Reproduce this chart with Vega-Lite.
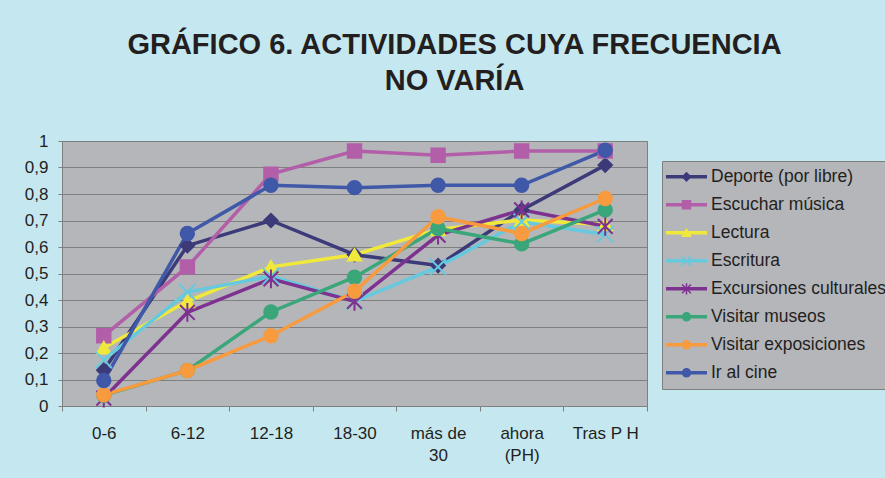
{
  "$schema": "https://vega.github.io/schema/vega-lite/v6.json",
  "width": 585,
  "height": 265,
  "autosize": {"type": "none"},
  "padding": {"left": 62, "top": 141, "right": 238, "bottom": 72},
  "background": "#c5e8f0",
  "title": {
    "text": ["GRÁFICO 6. ACTIVIDADES CUYA FRECUENCIA", "NO VARÍA"],
    "font": "Liberation Sans",
    "fontSize": 29,
    "fontWeight": "bold",
    "color": "#231f20",
    "anchor": "middle",
    "frame": "group",
    "dx": 100,
    "lineHeight": 36,
    "offset": 36
  },
  "config": {
    "view": {"fill": "#b5b6ba", "stroke": "#7f7f7f", "strokeWidth": 1},
    "axis": {"labelFont": "Liberation Sans", "labelFontSize": 17, "labelColor": "#231f20", "domainColor": "#7f7f7f", "tickColor": "#7f7f7f", "title": null}
  },
  "data": {
    "values": [
      {"serie": "Deporte (por libre)", "edad": "0-6", "valor": 0.135},
      {"serie": "Deporte (por libre)", "edad": "6-12", "valor": 0.605},
      {"serie": "Deporte (por libre)", "edad": "12-18", "valor": 0.70},
      {"serie": "Deporte (por libre)", "edad": "18-30", "valor": 0.571},
      {"serie": "Deporte (por libre)", "edad": "más de 30", "valor": 0.53},
      {"serie": "Deporte (por libre)", "edad": "ahora (PH)", "valor": 0.74},
      {"serie": "Deporte (por libre)", "edad": "Tras P H", "valor": 0.909},
      {"serie": "Escuchar música", "edad": "0-6", "valor": 0.265},
      {"serie": "Escuchar música", "edad": "6-12", "valor": 0.525},
      {"serie": "Escuchar música", "edad": "12-18", "valor": 0.875},
      {"serie": "Escuchar música", "edad": "18-30", "valor": 0.962},
      {"serie": "Escuchar música", "edad": "más de 30", "valor": 0.946},
      {"serie": "Escuchar música", "edad": "ahora (PH)", "valor": 0.962},
      {"serie": "Escuchar música", "edad": "Tras P H", "valor": 0.962},
      {"serie": "Lectura", "edad": "0-6", "valor": 0.22},
      {"serie": "Lectura", "edad": "6-12", "valor": 0.395},
      {"serie": "Lectura", "edad": "12-18", "valor": 0.525},
      {"serie": "Lectura", "edad": "18-30", "valor": 0.571},
      {"serie": "Lectura", "edad": "más de 30", "valor": 0.666},
      {"serie": "Lectura", "edad": "ahora (PH)", "valor": 0.702},
      {"serie": "Lectura", "edad": "Tras P H", "valor": 0.685},
      {"serie": "Escritura", "edad": "0-6", "valor": 0.174},
      {"serie": "Escritura", "edad": "6-12", "valor": 0.43},
      {"serie": "Escritura", "edad": "12-18", "valor": 0.49},
      {"serie": "Escritura", "edad": "18-30", "valor": 0.395},
      {"serie": "Escritura", "edad": "más de 30", "valor": 0.525},
      {"serie": "Escritura", "edad": "ahora (PH)", "valor": 0.695},
      {"serie": "Escritura", "edad": "Tras P H", "valor": 0.647},
      {"serie": "Excursiones culturales", "edad": "0-6", "valor": 0.03},
      {"serie": "Excursiones culturales", "edad": "6-12", "valor": 0.353},
      {"serie": "Excursiones culturales", "edad": "12-18", "valor": 0.48},
      {"serie": "Excursiones culturales", "edad": "18-30", "valor": 0.395},
      {"serie": "Excursiones culturales", "edad": "más de 30", "valor": 0.645},
      {"serie": "Excursiones culturales", "edad": "ahora (PH)", "valor": 0.74},
      {"serie": "Excursiones culturales", "edad": "Tras P H", "valor": 0.678},
      {"serie": "Visitar museos", "edad": "0-6", "valor": 0.04},
      {"serie": "Visitar museos", "edad": "6-12", "valor": 0.134},
      {"serie": "Visitar museos", "edad": "12-18", "valor": 0.355},
      {"serie": "Visitar museos", "edad": "18-30", "valor": 0.486},
      {"serie": "Visitar museos", "edad": "más de 30", "valor": 0.67},
      {"serie": "Visitar museos", "edad": "ahora (PH)", "valor": 0.612},
      {"serie": "Visitar museos", "edad": "Tras P H", "valor": 0.74},
      {"serie": "Visitar exposiciones", "edad": "0-6", "valor": 0.042},
      {"serie": "Visitar exposiciones", "edad": "6-12", "valor": 0.134},
      {"serie": "Visitar exposiciones", "edad": "12-18", "valor": 0.265},
      {"serie": "Visitar exposiciones", "edad": "18-30", "valor": 0.433},
      {"serie": "Visitar exposiciones", "edad": "más de 30", "valor": 0.714},
      {"serie": "Visitar exposiciones", "edad": "ahora (PH)", "valor": 0.651},
      {"serie": "Visitar exposiciones", "edad": "Tras P H", "valor": 0.783},
      {"serie": "Ir al cine", "edad": "0-6", "valor": 0.096},
      {"serie": "Ir al cine", "edad": "6-12", "valor": 0.651},
      {"serie": "Ir al cine", "edad": "12-18", "valor": 0.833},
      {"serie": "Ir al cine", "edad": "18-30", "valor": 0.824},
      {"serie": "Ir al cine", "edad": "más de 30", "valor": 0.833},
      {"serie": "Ir al cine", "edad": "ahora (PH)", "valor": 0.833},
      {"serie": "Ir al cine", "edad": "Tras P H", "valor": 0.965}
    ]
  },
  "encoding": {
    "x": {
      "field": "edad",
      "type": "nominal",
      "sort": ["0-6", "6-12", "12-18", "18-30", "más de 30", "ahora (PH)", "Tras P H"],
      "scale": {"type": "band", "paddingInner": 0, "paddingOuter": 0},
      "axis": {
        "labelAngle": 0,
        "tickBand": "extent",
        "tickSize": 5,
        "labelPadding": 14,
        "labelBaseline": "top",
        "labelLineHeight": 22,
        "labelExpr": "datum.value == 'más de 30' ? ['más de', '30'] : datum.value == 'ahora (PH)' ? ['ahora', '(PH)'] : datum.value",
        "grid": false
      }
    },
    "y": {
      "field": "valor",
      "type": "quantitative",
      "scale": {"domain": [0, 1], "nice": false, "zero": true},
      "axis": {
        "values": [0, 0.1, 0.2, 0.3, 0.4, 0.5, 0.6, 0.7, 0.8, 0.9, 1],
        "labelExpr": "datum.value == 0 ? '0' : datum.value == 1 ? '1' : replace(format(datum.value, '.1f'), '.', ',')",
        "tickSize": 4,
        "labelPadding": 10,
        "grid": true,
        "gridColor": "#7f7f7f",
        "gridWidth": 1
      }
    }
  },
  "layer": [
    {
      "mark": {"type": "line", "strokeWidth": 3.5},
      "encoding": {
        "color": {
          "field": "serie",
          "type": "nominal",
          "sort": ["Deporte (por libre)", "Escuchar música", "Lectura", "Escritura", "Excursiones culturales", "Visitar museos", "Visitar exposiciones", "Ir al cine"],
          "scale": {"range": ["#3c3a78", "#b35ea8", "#f0e93c", "#66c9dd", "#7d3290", "#3aa67a", "#f89a3e", "#3f58a8"]},
          "legend": {
            "orient": "none",
            "legendX": 600,
            "legendY": 20,
            "title": null,
            "symbolType": "stroke",
            "symbolSize": 1681,
            "symbolStrokeWidth": 3.5,
            "fillColor": "#b5b6ba",
            "strokeColor": "#7f7f7f",
            "padding": 2,
            "labelFont": "Liberation Sans",
            "labelFontSize": 17.5,
            "labelColor": "#231f20",
            "labelOffset": 2,
            "labelLimit": 0,
            "clipHeight": 27.7,
            "rowPadding": 0,
            "zindex": 1
          }
        }
      }
    },
    {
      "mark": {"type": "point", "filled": true, "size": 180, "strokeWidth": 2, "opacity": 1},
      "encoding": {
        "fill": {
          "field": "serie",
          "type": "nominal",
          "scale": {"domain": ["Deporte (por libre)", "Escuchar música", "Lectura", "Escritura", "Excursiones culturales", "Visitar museos", "Visitar exposiciones", "Ir al cine"], "range": ["#3c3a78", "#b35ea8", "#f0e93c", "#66c9dd", "#7d3290", "#3aa67a", "#f89a3e", "#3f58a8"]},
          "legend": {
            "orient": "none", "legendX": 600, "legendY": 20, "title": null,
            "symbolSize": 64, "symbolStrokeWidth": 1.5, "padding": 2,
            "labelFont": "Liberation Sans", "labelFontSize": 16.5, "labelExpr": "''", "labelLimit": 0,
            "clipHeight": 27.7, "rowPadding": 0, "symbolOffset": 14.25, "zindex": 2
          }
        },
        "stroke": {
          "field": "serie",
          "type": "nominal",
          "scale": {"domain": ["Deporte (por libre)", "Escuchar música", "Lectura", "Escritura", "Excursiones culturales", "Visitar museos", "Visitar exposiciones", "Ir al cine"], "range": ["#3c3a78", "#b35ea8", "#f0e93c", "#66c9dd", "#7d3290", "#3aa67a", "#f89a3e", "#3f58a8"]},
          "legend": {
            "orient": "none", "legendX": 600, "legendY": 20, "title": null,
            "symbolSize": 64, "symbolStrokeWidth": 1.5, "padding": 2,
            "labelFont": "Liberation Sans", "labelFontSize": 16.5, "labelExpr": "''", "labelLimit": 0,
            "clipHeight": 27.7, "rowPadding": 0, "symbolOffset": 14.25, "zindex": 2
          }
        },
        "shape": {
          "field": "serie",
          "type": "nominal",
          "scale": {"domain": ["Deporte (por libre)", "Escuchar música", "Lectura", "Escritura", "Excursiones culturales", "Visitar museos", "Visitar exposiciones", "Ir al cine"], "range": ["diamond", "square", "triangle-up", "M-1.2,-1.2L1.2,1.2M-1.2,1.2L1.2,-1.2", "M-1.1,-1.1L1.1,1.1M-1.1,1.1L1.1,-1.1M0,-1.4L0,1.4", "circle", "circle", "circle"]},
          "legend": {
            "orient": "none", "legendX": 600, "legendY": 20, "title": null,
            "symbolSize": 64, "symbolStrokeWidth": 1.5, "padding": 2,
            "labelFont": "Liberation Sans", "labelFontSize": 16.5, "labelExpr": "''", "labelLimit": 0,
            "clipHeight": 27.7, "rowPadding": 0, "symbolOffset": 14.25, "zindex": 2
          }
        }
      }
    }
  ]
}
